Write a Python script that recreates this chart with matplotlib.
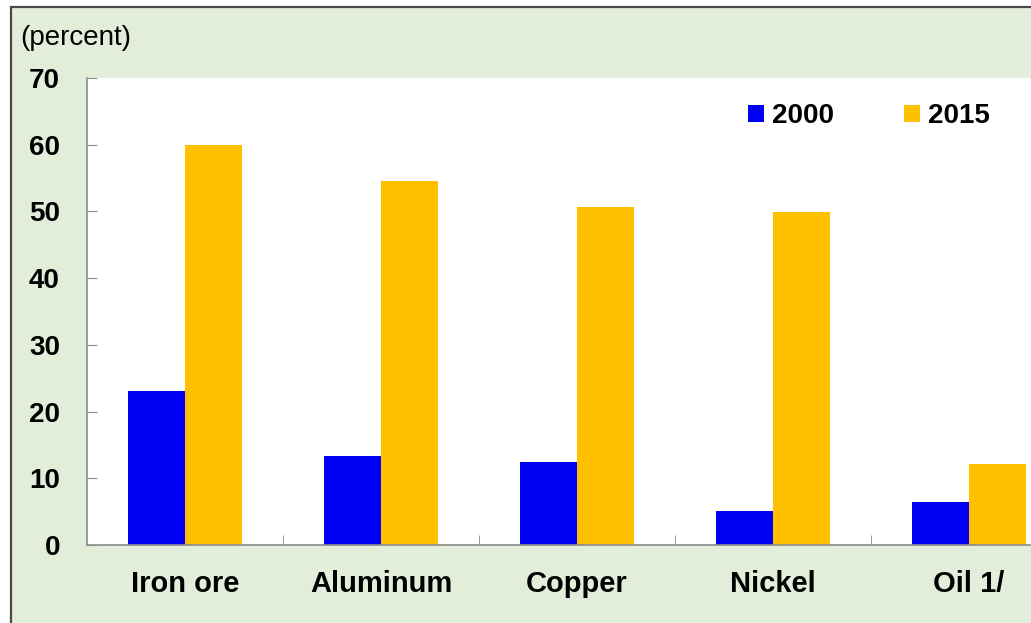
import matplotlib.pyplot as plt
import numpy as np
from matplotlib.patches import Rectangle

# Data (percent)
categories = ["Iron ore", "Aluminum", "Copper", "Nickel", "Oil 1/"]
share_2000 = [23.1, 13.3, 12.4, 5.1, 6.4]
share_2015 = [60.0, 54.6, 50.7, 49.9, 12.1]
series_labels = ["2000", "2015"]

plt.rcParams['font.family'] = ['Liberation Sans', 'DejaVu Sans']

bg = "#e3eeda"
c_blue = "#0000f5"
c_orange = "#ffc000"

fig = plt.figure(figsize=(10.31, 6.23), dpi=100)
fig.patch.set_facecolor("white")

# Green panel with dark border (cropped at right/bottom)
W, H = 1031, 623
panel = Rectangle((11 / W, -0.1), 1.2, 1 - 7 / H + 0.1, transform=fig.transFigure,
                  facecolor=bg, edgecolor="#4a4a4a", linewidth=1.6, zorder=-5)
fig.patches.append(panel)

ax = fig.add_axes([87 / W, 78 / H, (1067 - 87) / W, (545 - 78) / H])
ax.set_zorder(2)
ax.set_facecolor("white")

x = np.arange(len(categories))
w = 0.29
ax.bar(x - w / 2, share_2000, w, color=c_blue, label=series_labels[0], zorder=2)
ax.bar(x + w / 2, share_2015, w, color=c_orange, label=series_labels[1], zorder=2)

ax.set_xlim(-0.5, len(categories) - 0.5)
ax.set_ylim(0, 70)
ax.set_yticks(range(0, 71, 10))
ax.set_xticks(x)
ax.set_xticklabels(categories)
ax.set_xticks(np.arange(0.5, len(categories) - 0.5, 1), minor=True)

for s in ["top", "right"]:
    ax.spines[s].set_visible(False)
for s in ["left", "bottom"]:
    ax.spines[s].set_color("#8c8c8c")
    ax.spines[s].set_linewidth(1.2)

ax.tick_params(axis="y", direction="in", length=7, color="#8c8c8c", pad=19.5,
               labelsize=20)
ax.tick_params(axis="x", which="major", length=0, pad=18, labelsize=21)
ax.tick_params(axis="x", which="minor", direction="in", length=7, color="#8c8c8c")
for lab in ax.get_xticklabels() + ax.get_yticklabels():
    lab.set_fontweight("bold")

leg = ax.legend(loc="upper left", bbox_to_anchor=(0.649, 0.999), ncol=2, frameon=False,
                prop={"weight": "bold", "size": 20}, handlelength=0.58, handleheight=0.58,
                handletextpad=0.3, columnspacing=2.5)

fig.text(20 / W, 1 - 38 / H, "(percent)", fontsize=20, va="center", ha="left")

fig.savefig("out.png", dpi=100, facecolor=fig.get_facecolor())
